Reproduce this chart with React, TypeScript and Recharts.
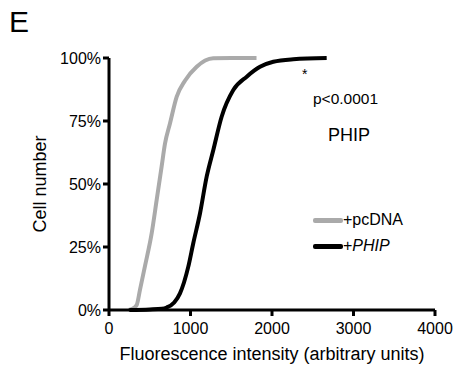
import React from 'react';
import { LineChart, Line, XAxis, YAxis, Label } from 'recharts';

const xTicks = [0, 1000, 2000, 3000, 4000];
const yTicks = [0, 0.25, 0.5, 0.75, 1];

// cumulative fraction of cells vs fluorescence intensity
const pcdnaX = [240, 290, 340, 380, 442, 524, 585, 646, 687, 748, 830, 932, 1076, 1180, 1279, 1500, 1810];
const pcdnaY = [0, 0.005, 0.02, 0.08, 0.175, 0.305, 0.437, 0.57, 0.66, 0.74, 0.846, 0.91, 0.965, 0.99, 0.999, 1, 1];

const phipX = [250, 500, 650, 708, 800, 871, 973, 1034, 1117, 1199, 1280, 1382, 1525, 1690, 1853, 2016, 2261, 2671];
const phipY = [0, 0.002, 0.005, 0.01, 0.03, 0.066, 0.172, 0.265, 0.384, 0.53, 0.635, 0.767, 0.873, 0.926, 0.965, 0.985, 0.995, 1];

const pcdna = pcdnaX.map((x, i) => ({ x, y: pcdnaY[i] }));
const phip = phipX.map((x, i) => ({ x, y: phipY[i] }));

const FONT = '"Liberation Sans", Arial, sans-serif';
const GRAY = '#aaaaaa';

const App: React.FC = () => {
  return (
    <div style={{ position: 'absolute', left: 0, top: 0, width: 456, height: 371, background: '#fff', fontFamily: FONT }}>
      <LineChart width={456} height={371} margin={{ top: 58, right: 21, bottom: 0, left: 0 }}>
        <XAxis
          type="number"
          dataKey="x"
          domain={[0, 4000]}
          ticks={xTicks}
          allowDataOverflow
          height={61}
          stroke="#000"
          strokeWidth={3}
          tickSize={6}
          tickMargin={7}
          tick={{ fill: '#000', fontSize: 16, fontFamily: FONT }}
        >
          <Label value="Fluorescence intensity (arbitrary units)" position="insideBottom" offset={11} style={{ fill: '#000', fontSize: 18, fontFamily: FONT }} />
        </XAxis>
        <YAxis
          type="number"
          dataKey="y"
          domain={[0, 1]}
          ticks={yTicks}
          width={109}
          stroke="#000"
          strokeWidth={3}
          tickSize={6}
          tickFormatter={(v: number) => `${Math.round(v * 100)}%`}
          tick={{ fill: '#000', fontSize: 16, fontFamily: FONT }}
        >
          <Label value="Cell number" angle={-90} position="insideLeft" offset={40} style={{ textAnchor: 'middle', fill: '#000', fontSize: 18, fontFamily: FONT }} />
        </YAxis>
        <Line data={pcdna} dataKey="y" type="monotone" stroke={GRAY} strokeWidth={4} dot={false} isAnimationActive={false} />
        <Line data={phip} dataKey="y" type="monotone" stroke="#000" strokeWidth={4} dot={false} isAnimationActive={false} />
      </LineChart>

      <div style={{ position: 'absolute', left: 9, top: 4, fontSize: 30, lineHeight: '36px' }}>E</div>
      <div style={{ position: 'absolute', left: 302, top: 66, fontSize: 14, lineHeight: '16px' }}>*</div>
      <div style={{ position: 'absolute', left: 313, top: 90, fontSize: 15.5, lineHeight: '18px' }}>p&lt;0.0001</div>
      <div style={{ position: 'absolute', left: 328, top: 125, fontSize: 18, lineHeight: '20px' }}>PHIP</div>

      <div style={{ position: 'absolute', left: 313, top: 218, width: 30, height: 5, background: GRAY, borderRadius: 2 }} />
      <div style={{ position: 'absolute', left: 343, top: 211, fontSize: 16, lineHeight: '18px' }}>+pcDNA</div>
      <div style={{ position: 'absolute', left: 313, top: 244, width: 30, height: 5, background: '#000', borderRadius: 2 }} />
      <div style={{ position: 'absolute', left: 343, top: 237, fontSize: 16, lineHeight: '18px' }}>
        +<i>PHIP</i>
      </div>
    </div>
  );
};

export default App;
